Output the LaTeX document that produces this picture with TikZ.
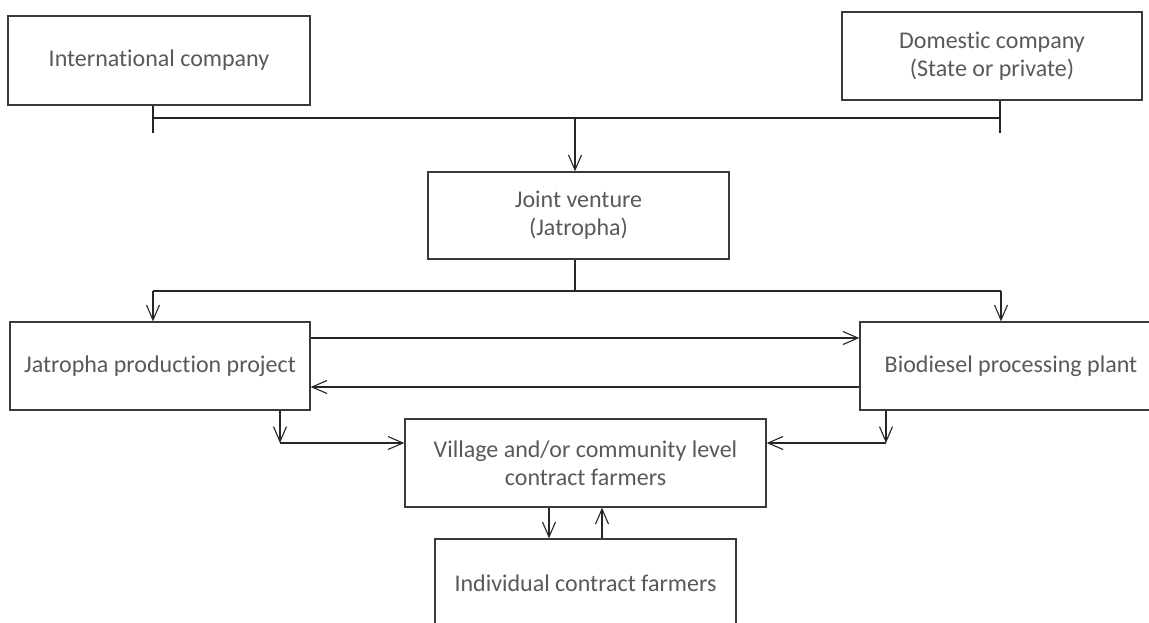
\documentclass[tikz,border=0pt]{standalone}
\usepackage{fontspec}
\setmainfont{Carlito}[Ligatures=NoCommon]
\usetikzlibrary{arrows.meta}
\definecolor{textgray}{HTML}{595959}
\definecolor{boxgray}{HTML}{3A3A3A}
\begin{document}
\begin{tikzpicture}[x=1pt,y=-1pt,
  box/.style={draw=boxgray, line width=1.3pt, inner sep=0pt, text=textgray, align=center, font=\fontsize{24}{28}\selectfont},
  conn/.style={draw=black!85, line width=1.1pt},
  arr/.style={conn, -{Straight Barb[length=15pt,width=13pt,line width=1.1pt]}}
]
\fill[white] (0,0) rectangle (1149,622);
\clip (0,0) rectangle (1149,622);

\node[box, minimum width=302pt, minimum height=89pt] (intl) at (159,60.5) {International company};
\node[box, minimum width=300pt, minimum height=88pt] (dom) at (992,56) {Domestic company\\(State or private)};
\node[box, minimum width=301pt, minimum height=87pt] (jv) at (578.5,215.5) {Joint venture\\(Jatropha)};
\node[box, minimum width=300pt, minimum height=88pt] (jpp) at (160,366) {Jatropha production project};
\node[box, minimum width=302pt, minimum height=88pt] (bio) at (1011,366) {Biodiesel processing plant};
\node[box, minimum width=361pt, minimum height=88pt] (village) at (585.5,463) {Village and/or community level\\contract farmers};
\node[box, minimum width=301pt, minimum height=88pt] (ind) at (585.5,583) {Individual contract farmers};

% top bus
\coordinate (busL) at (153,118);
\coordinate (busR) at (1000,118);
\coordinate (busM) at (575,118);
\coordinate (tickL) at (153,133);
\coordinate (tickR) at (1000,133);
\draw[conn] (intl.south -| busL) -- (tickL);
\draw[conn] (dom.south -| busR) -- (tickR);
\draw[conn] (busL) -- (busR);
\draw[arr] (busM) -- (busM |- jv.north);

% second bus
\coordinate (jvb) at (575,291);
\coordinate (bus2L) at (153,291);
\coordinate (bus2R) at (1001,291);
\draw[conn] (jv.south -| jvb) -- (jvb);
\draw[conn] (bus2L) -- (bus2R);
\draw[arr] (bus2L) -- (bus2L |- jpp.north);
\draw[arr] (bus2R) -- (bus2R |- bio.north);

% between jpp and bio
\coordinate (yA) at (0,338);
\coordinate (yB) at (0,387);
\draw[arr] (jpp.east |- yA) -- (bio.west |- yA);
\draw[arr] (bio.west |- yB) -- (jpp.east |- yB);

% to village
\coordinate (jppc) at (280,443);
\coordinate (bioc) at (886,443);
\draw[arr] (jpp.south -| jppc) -- (jppc);
\draw[arr] (jppc) -- (village.west |- jppc);
\draw[arr] (bio.south -| bioc) -- (bioc);
\draw[arr] (bioc) -- (village.east |- bioc);

% village <-> individual
\coordinate (xD) at (549,0);
\coordinate (xU) at (602,0);
\draw[arr] (village.south -| xD) -- (ind.north -| xD);
\draw[arr] (ind.north -| xU) -- (village.south -| xU);
\end{tikzpicture}
\end{document}
